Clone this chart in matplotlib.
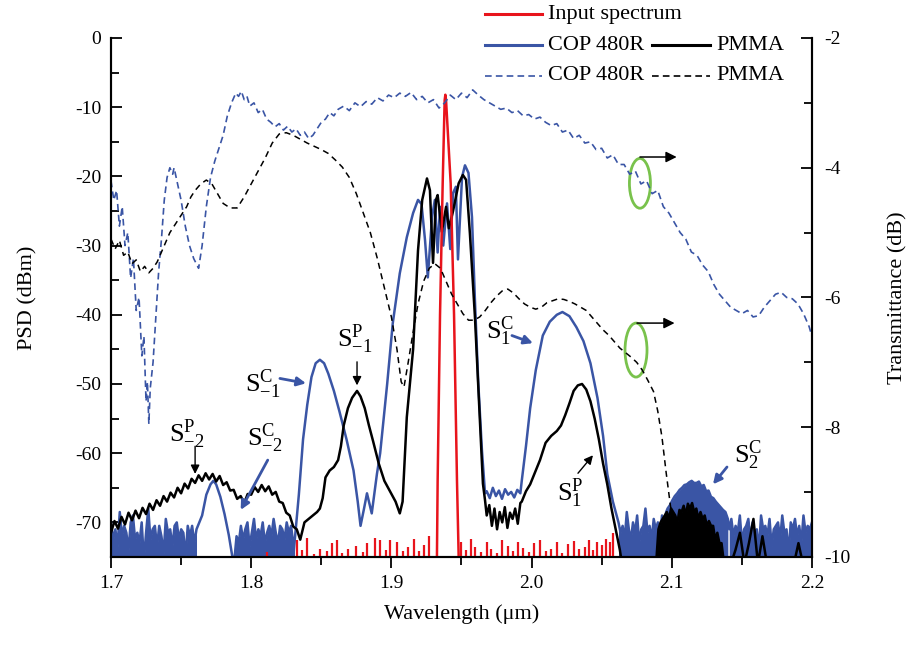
import numpy as np
import matplotlib
matplotlib.use('Agg')
import matplotlib.pyplot as plt
from matplotlib.lines import Line2D
from matplotlib.patches import Ellipse
from matplotlib.ticker import MultipleLocator

plt.rcParams['font.family'] = 'Liberation Serif'
plt.rcParams['mathtext.fontset'] = 'custom'
plt.rcParams['mathtext.rm'] = 'Liberation Serif'
plt.rcParams['axes.unicode_minus'] = False

BLUE = '#3a55a5'
RED = '#e8141c'
GREEN = '#79c24c'

# ---------------- data ----------------
# COP 480R output spectrum (PSD, dBm)
# noisy floor pieces: (first wavelength, last wavelength, upper edge of the noise band)
cop_floor1 = [-70, -72.5, -71, -73.5, -68.5, -72, -70.5, -71.5, -74, -70, -69, -72.5, -71.5, -73,
              -70, -75.5, -71.5, -68, -72.5, -71, -70.5, -73.5, -70.5, -72, -74.5, -69.5, -71.5,
              -71, -73.5, -70.5, -70, -72.5, -71, -71.5, -75, -70.5, -72, -70.5, -73, -71]
cop_floor2 = [-75.5, -72, -73, -70.5, -72.5, -71, -70, -73.5, -71.5, -69.5, -72.5, -71, -72, -70,
              -73, -71.5, -70.5, -72, -69.5, -71.5, -73, -70.5, -71, -72.5, -70, -71.5, -70.5, -73]
cop_floor3 = [-70, -71.5, -70.5, -72.5, -68.5, -71, -72.5, -70, -71.5, -69, -73, -71, -70.5, -68,
              -71.5, -70.5, -72.5, -69.5, -71, -70, -72, -69, -70.5, -68.5]
cop_s2 = [-68, -67.5, -66.8, -66.2, -65.8, -65.3, -65, -64.6, -64.5, -64.2, -64, -64.3, -64.3,
          -64.1, -64.8, -64.6, -65.5, -65.4, -66.3, -66.5, -67, -67.4, -67.8, -68.2, -68.5, -69.5]
cop_floor4 = [-71, -69.5, -72, -70.5, -71.5, -69, -73, -71, -70.5, -69.5, -72.5, -70, -71.5, -71,
              -74, -69, -71, -70.5, -72, -69.5, -73.5, -71, -70.5, -70, -72.5, -69, -71.5, -71,
              -74.5, -70, -71, -69.5, -72, -70.5, -73, -69, -71.5, -70.5, -71, -70]
cop_floor_ranges = [(1.700, 1.761), (1.788, 1.830), (2.062, 2.096), (2.097, 2.140), (2.141, 2.200)]

# clean parts of the COP trace
cop_s2m_wl = [1.761, 1.765, 1.768, 1.771, 1.773, 1.775, 1.778, 1.781, 1.784, 1.787]
cop_s2m = [-71, -69, -66, -64.5, -64, -64.5, -66.3, -68.8, -71.8, -75.5]
cop_main_wl = [1.830, 1.834, 1.837, 1.840, 1.843, 1.846, 1.849, 1.852, 1.855, 1.859, 1.863, 1.868,
               1.873, 1.876, 1.878, 1.8805, 1.8826, 1.886, 1.8897, 1.892, 1.897, 1.901, 1.906, 1.911,
               1.9155, 1.919, 1.9215, 1.924, 1.926, 1.929, 1.931, 1.933, 1.9347, 1.937, 1.9397,
               1.942, 1.944, 1.946, 1.9475, 1.9504, 1.9525, 1.955, 1.9575, 1.9596, 1.962, 1.9646,
               1.9668]
cop_main = [-75, -66, -58, -53, -49, -47, -46.5, -47, -48.5, -51, -54, -58, -62.5, -67, -70.5, -68,
            -65.8, -68.7, -63, -60, -50, -41.2, -34, -28.8, -25.3, -23.4, -24, -29.2, -34.6, -25.9,
            -23.4, -31, -24.4, -30, -23.9, -30.5, -22.4, -21.5, -32, -20.1, -18.4, -19.5, -25.9,
            -37.9, -49.9, -59.6, -65.8]
cop_floor_mid = [-65.5, -66.5, -65, -66.2, -65.4, -66.6, -65.2, -66, -65.6, -66.4, -65.3, -65.8]
cop_s1_wl = [1.993, 1.996, 1.999, 2.003, 2.008, 2.013, 2.018, 2.022, 2.027, 2.032, 2.037, 2.042,
             2.047, 2.051, 2.054, 2.058, 2.062]
cop_s1 = [-64, -59, -53.5, -48, -43, -41, -40, -39.6, -40.2, -41.8, -43.8, -47, -52, -57.5, -63,
          -67, -70]

# PMMA output spectrum (PSD, dBm)
pmma_left = [-71.5, -69.8, -70.9, -69.2, -70.3, -68.6, -69.7, -68.3, -69.4, -67.9, -68.8, -67.3,
             -68.2, -66.8, -67.6, -66.2, -67.0, -65.7, -66.4, -65.0, -65.8, -64.4, -65.1, -63.7,
             -64.3, -63.2, -64.0, -62.9, -63.8, -63.0, -64.1, -63.3, -64.6, -64.2, -65.4, -65.3,
             -66.6, -66.2, -67.2, -65.9, -66.0, -64.9, -65.6, -64.6, -65.5, -64.8, -66.0, -65.6,
             -67.0, -67.2, -68.6, -69.0, -70.6, -71.0]
pmma_main_wl = [1.835, 1.838, 1.841, 1.844, 1.847, 1.849, 1.851, 1.853, 1.856, 1.859, 1.862, 1.864,
                1.866, 1.869, 1.872, 1.8755, 1.878, 1.881, 1.884, 1.887, 1.891, 1.895, 1.899,
                1.903, 1.906, 1.908, 1.911, 1.9155, 1.919, 1.922, 1.9254, 1.9275, 1.9297, 1.9318,
                1.933, 1.936, 1.939, 1.941, 1.944, 1.948, 1.951, 1.9533, 1.956, 1.9596, 1.963,
                1.9653, 1.9668]
pmma_main = [-72.5, -70, -69.5, -69, -68.5, -68, -66.5, -63.5, -62.5, -62, -61, -59, -56, -53.5,
             -52, -51, -51.8, -53.5, -56, -58.3, -61.5, -64, -65.5, -67, -68.7, -67, -54.8, -45,
             -30.7, -23.4, -20.3, -22, -32.5, -23.4, -22.7, -28, -24.4, -27.5, -25, -21, -19.8,
             -20.5, -28.2, -40.3, -54.8, -64.4, -66.8]
pmma_floor_mid = [-69, -67.5, -70.5, -68, -71, -68.5, -70, -67.8, -70.8, -68.6, -69.5, -68, -70.2,
                  -67.2]
pmma_s1_wl = [1.993, 1.996, 1.999, 2.002, 2.006, 2.010, 2.014, 2.018, 2.021, 2.024, 2.027, 2.030,
              2.033, 2.036, 2.039, 2.042, 2.045, 2.048, 2.051, 2.054, 2.057, 2.060, 2.063, 2.066,
              2.088]
pmma_s1 = [-67, -65.5, -64.5, -63, -61, -58.5, -57.5, -56.8, -56, -54.5, -52.8, -51, -50.2, -50,
           -50.8, -52.5, -55, -58, -61.5, -64.5, -68, -71, -74, -78, -78]
# noisy bump near 2.11 um: upper edge of the band
pmma_bump = [-75.5, -71, -70, -69.5, -69, -68.5, -69.5, -68, -68.5, -69, -70, -68.2, -68.5, -67.6,
             -69, -67.3, -68, -67.2, -68.5, -68, -69.5, -68.5, -69.5, -69, -70.5, -69.8, -70.5,
             -70.5, -72.5, -71.5, -73, -73, -75.5]
pmma_bump_range = (2.089, 2.137)
pmma_floor_right = [-76, -76, -74, -71.5, -76, -73, -69.5, -76, -72, -76, -76, -76, -76, -76,
                    -76, -76, -73, -76, -76, -76]

# Input spectrum: main line and the small spikes of the floor
pump_wl = [1.930, 1.9325, 1.933, 1.9347, 1.9366, 1.938, 1.9385, 1.939, 1.9423, 1.9447, 1.9468,
           1.948, 1.951]
pump_psd = [-80, -75, -64, -40, -21, -9, -8.2, -9, -21, -40, -64, -75, -80]
spike_wl = [1.811, 1.8327, 1.8363, 1.840, 1.8445, 1.849, 1.854, 1.858, 1.861, 1.865, 1.869, 1.875,
            1.8795, 1.8826, 1.888, 1.892, 1.896, 1.899, 1.904, 1.908, 1.912, 1.916, 1.9195, 1.923,
            1.9265, 1.950, 1.9535, 1.957, 1.960, 1.964, 1.968, 1.971, 1.975, 1.979, 1.983, 1.9865,
            1.990, 1.994, 1.998, 2.002, 2.006, 2.010, 2.014, 2.018, 2.022, 2.026, 2.030, 2.034,
            2.038, 2.041, 2.044, 2.047, 2.050, 2.053, 2.056, 2.058]
spike_psd = [-74.3, -72.5, -74, -72.2, -74.5, -73.8, -74.2, -73, -72.6, -74.4, -73.9, -73.4, -74.3,
             -73, -72.2, -72.5, -74, -72.6, -72.8, -74.2, -73.5, -72.4, -74.1, -73.2, -72, -72.8,
             -74, -72.4, -73.6, -74.3, -72.9, -73.8, -74.4, -72.6, -73.4, -74.1, -72.9, -73.7,
             -74.3, -73, -72.6, -74.2, -73.8, -72.9, -74.4, -73.1, -72.7, -73.9, -73.5, -72.6, -74,
             -72.8, -73.2, -72.4, -72.9, -71.6]

# Fibre transmittance (dB), right axis
cop_t_wl = [1.700, 1.702, 1.704, 1.706, 1.708, 1.710, 1.712, 1.714, 1.716, 1.718, 1.720, 1.722,
            1.7235, 1.725, 1.726, 1.727, 1.728, 1.730, 1.732, 1.734, 1.736, 1.738, 1.740, 1.742,
            1.744, 1.745, 1.747, 1.750, 1.753, 1.756, 1.759, 1.7625, 1.765, 1.768, 1.771, 1.774,
            1.777, 1.780, 1.783, 1.786, 1.789, 1.791, 1.793, 1.795, 1.797, 1.799, 1.802, 1.805,
            1.808, 1.811, 1.814, 1.817, 1.820, 1.823, 1.826, 1.829, 1.832, 1.835, 1.838, 1.841,
            1.844, 1.847, 1.850, 1.853, 1.856, 1.859, 1.862, 1.866, 1.870, 1.874, 1.878, 1.882,
            1.886, 1.890, 1.894, 1.898, 1.902, 1.906, 1.910, 1.914, 1.918, 1.922, 1.926, 1.930,
            1.934, 1.938, 1.942, 1.946, 1.950, 1.954, 1.958, 1.962, 1.966, 1.970, 1.974, 1.978,
            1.982, 1.986, 1.990, 1.994, 1.998, 2.002, 2.006, 2.010, 2.014, 2.018, 2.022, 2.026,
            2.030, 2.034, 2.038, 2.042, 2.046, 2.050, 2.054, 2.058, 2.062, 2.066, 2.070, 2.074,
            2.078, 2.082, 2.086, 2.090, 2.094, 2.098, 2.102, 2.106, 2.110, 2.114, 2.118, 2.122,
            2.126, 2.130, 2.134, 2.138, 2.142, 2.146, 2.150, 2.154, 2.158, 2.162, 2.166, 2.170,
            2.174, 2.178, 2.182, 2.186, 2.190, 2.194, 2.198, 2.200]
cop_t = [-4.2, -4.5, -4.35, -4.9, -4.6, -5.2, -5.0, -5.7, -5.4, -6.2, -6.0, -6.9, -6.6, -7.6, -7.3,
         -7.95, -7.4, -7.0, -6.3, -5.6, -5.1, -4.5, -4.15, -4.0, -4.1, -4.0, -4.2, -4.5, -4.9, -5.2,
         -5.4, -5.55, -5.2, -4.6, -4.15, -3.9, -3.7, -3.5, -3.2, -3.0, -2.85, -2.9, -2.82, -2.95,
         -2.9, -3.05, -3.0, -3.15, -3.1, -3.25, -3.3, -3.37, -3.32, -3.42, -3.36, -3.45, -3.4,
         -3.5, -3.45, -3.55, -3.5, -3.4, -3.3, -3.25, -3.15, -3.2, -3.1, -3.05, -3.12, -3.0, -3.06,
         -2.98, -3.02, -2.92, -2.97, -2.88, -2.92, -2.85, -2.9, -2.84, -2.95, -2.9, -3.0, -2.95,
         -3.08, -3.0, -2.88, -2.95, -2.85, -2.92, -2.8, -2.88, -2.95, -3.0, -3.05, -3.1, -3.08,
         -3.15, -3.12, -3.2, -3.18, -3.25, -3.22, -3.3, -3.35, -3.32, -3.45, -3.42, -3.55, -3.5,
         -3.62, -3.6, -3.72, -3.7, -3.85, -3.8, -3.95, -3.95, -4.1, -4.05, -4.25, -4.2, -4.4,
         -4.35, -4.6, -4.7, -4.85, -5.0, -5.1, -5.3, -5.35, -5.5, -5.6, -5.8, -5.95, -6.05, -6.15,
         -6.2, -6.25, -6.2, -6.3, -6.28, -6.15, -6.05, -5.95, -5.92, -6.0, -6.02, -6.1, -6.25,
         -6.45, -6.6]
pmma_t_wl = [1.700, 1.703, 1.706, 1.709, 1.712, 1.715, 1.718, 1.721, 1.724, 1.727, 1.730, 1.733,
             1.736, 1.739, 1.742, 1.745, 1.748, 1.751, 1.754, 1.757, 1.760, 1.764, 1.768, 1.772,
             1.776, 1.780, 1.785, 1.790, 1.795, 1.800, 1.805, 1.810, 1.815, 1.820, 1.825, 1.830,
             1.835, 1.840, 1.845, 1.850, 1.855, 1.860, 1.865, 1.870, 1.875, 1.880, 1.885, 1.890,
             1.895, 1.900, 1.904, 1.907, 1.909, 1.912, 1.915, 1.919, 1.923, 1.927, 1.931, 1.935,
             1.939, 1.943, 1.947, 1.951, 1.955, 1.959, 1.963, 1.967, 1.971, 1.975, 1.979, 1.983,
             1.987, 1.991, 1.995, 1.999, 2.003, 2.007, 2.011, 2.015, 2.019, 2.023, 2.027, 2.031,
             2.035, 2.039, 2.043, 2.047, 2.051, 2.055, 2.059, 2.063, 2.067, 2.071, 2.075, 2.079,
             2.083, 2.087, 2.090, 2.093, 2.096, 2.099, 2.102, 2.105, 2.107]
pmma_t = [-5.1, -5.25, -5.12, -5.35, -5.3, -5.48, -5.42, -5.6, -5.52, -5.62, -5.55, -5.45, -5.3,
          -5.15, -5.0, -4.9, -4.8, -4.7, -4.6, -4.45, -4.35, -4.25, -4.19, -4.25, -4.4, -4.55,
          -4.62, -4.62, -4.45, -4.25, -4.05, -3.85, -3.62, -3.48, -3.46, -3.5, -3.56, -3.62,
          -3.67, -3.72, -3.78, -3.88, -3.99, -4.15, -4.4, -4.7, -5.0, -5.4, -5.85, -6.3, -6.8,
          -7.3, -7.38, -7.0, -6.6, -6.1, -5.75, -5.55, -5.48, -5.55, -5.75, -5.95, -6.1, -6.25,
          -6.35, -6.35, -6.3, -6.2, -6.08, -5.98, -5.9, -5.87, -5.93, -6.02, -6.1, -6.15, -6.18,
          -6.15, -6.08, -6.05, -6.02, -6.03, -6.06, -6.1, -6.15, -6.2, -6.3, -6.4, -6.5, -6.58,
          -6.68, -6.78, -6.85, -6.92, -7.0, -7.12, -7.28, -7.45, -7.75, -8.15, -8.7, -9.2, -9.6,
          -9.9, -10.1]

# peak labels
ann_labels = [r'$\mathregular{S^{C}_{-1}}$', r'$\mathregular{S^{P}_{-1}}$',
              r'$\mathregular{S^{P}_{-2}}$', r'$\mathregular{S^{C}_{-2}}$',
              r'$\mathregular{S^{C}_{1}}$', r'$\mathregular{S^{P}_{1}}$',
              r'$\mathregular{S^{C}_{2}}$']
ann_colors = [BLUE, 'black', 'black', BLUE, BLUE, 'black', BLUE]
# layout: text centre, arrow start, arrow tip (wavelength, dBm)
ann_text_xy = [(1.8084, -50.0), (1.874, -43.5), (1.7542, -57.3), (1.8098, -57.9),
               (1.9775, -42.4), (2.0274, -65.8), (2.1544, -60.3)]
ann_from = [(1.8205, -49.2), (1.8755, -46.8), (1.760, -59.0), (1.8118, -61.0),
            (1.986, -43.0), (2.0331, -62.9), (2.1394, -62.0)]
ann_to = [(1.8391, -49.9), (1.8755, -50.2), (1.760, -63.0), (1.7925, -68.2),
          (2.001, -44.1), (2.0438, -60.3), (2.1294, -64.5)]

# ---------------- figure ----------------
fig = plt.figure(figsize=(9.12, 6.46), dpi=100)
ax = fig.add_axes([0.1217, 0.1378, 0.7686, 0.8034])
ax2 = ax.twinx()

cop_floors = [cop_floor1, cop_floor2, cop_floor3, cop_s2, cop_floor4]
floor_wl = [np.linspace(a, b, len(v)) for (a, b), v in zip(cop_floor_ranges, cop_floors)]
cop_wl = np.concatenate([floor_wl[0], cop_s2m_wl, floor_wl[1], cop_main_wl,
                         np.linspace(1.968, 1.992, len(cop_floor_mid)), cop_s1_wl,
                         floor_wl[2], floor_wl[3], floor_wl[4]])
cop_psd = np.concatenate([cop_floor1, cop_s2m, cop_floor2, cop_main, cop_floor_mid, cop_s1,
                          cop_floor3, cop_s2, cop_floor4])
bump_wl = np.linspace(pmma_bump_range[0], pmma_bump_range[1], len(pmma_bump))
pmma_wl = np.concatenate([np.linspace(1.700, 1.8325, len(pmma_left)), pmma_main_wl,
                          np.linspace(1.968, 1.992, len(pmma_floor_mid)), pmma_s1_wl,
                          bump_wl, np.linspace(2.139, 2.200, len(pmma_floor_right))])
pmma_psd = np.concatenate([pmma_left, pmma_main, pmma_floor_mid, pmma_s1, pmma_bump,
                           pmma_floor_right])

# the noise floors are so dense that they read as filled bands
for w, v in zip(floor_wl, cop_floors):
    ax.fill_between(w, v, -76, color=BLUE, lw=0, zorder=2)
ax.plot(cop_wl, cop_psd, color=BLUE, lw=1.8, zorder=2)
ax.fill_between(bump_wl, pmma_bump, -76, color='black', lw=0, zorder=3)
ax.plot(pmma_wl, pmma_psd, color='black', lw=1.8, zorder=3)
ax.vlines(spike_wl, -76, spike_psd, color=RED, lw=1.6, zorder=4)
ax.plot(pump_wl, pump_psd, color=RED, lw=1.8, zorder=5)

ax2.plot(cop_t_wl, cop_t, color=BLUE, lw=1.2, ls=(0, (4, 2.5)))
ax2.plot(pmma_t_wl, pmma_t, color='black', lw=1.1, ls=(0, (4, 3)))

# green markers pointing to the right axis
for cx, cy, w, h in [(2.0773, -21.0, 0.015, 7.2), (2.0745, -45.1, 0.0157, 7.8)]:
    ax.add_patch(Ellipse((cx, cy), w, h, fill=False, ec=GREEN, lw=2, zorder=6))
for x0, x1, y in [(2.0773, 2.1035, -17.2), (2.0752, 2.1020, -41.2)]:
    ax.annotate('', xy=(x1, y), xytext=(x0, y),
                arrowprops=dict(arrowstyle='-|>', color='black', lw=1.1, mutation_scale=16,
                                shrinkA=0, shrinkB=0), zorder=6)

for lab, col, txy, p0, p1 in zip(ann_labels, ann_colors, ann_text_xy, ann_from, ann_to):
    ax.text(txy[0], txy[1], lab, color='black', fontsize=19, ha='center', va='center', zorder=7)
    lw = 2.0 if col == BLUE else 1.0
    ax.annotate('', xy=p1, xytext=p0,
                arrowprops=dict(arrowstyle='-|>', color=col, lw=lw, mutation_scale=13,
                                shrinkA=0, shrinkB=0), zorder=7)

ax.set_xlim(1.7, 2.2)
ax.set_ylim(-75, 0)
ax2.set_ylim(-10, -2)
ax.set_xticks([1.7, 1.8, 1.9, 2.0, 2.1, 2.2])
ax.set_xticklabels(['1.7', '1.8', '1.9', '2.0', '2.1', '2.2'])
ax.set_yticks([0, -10, -20, -30, -40, -50, -60, -70])
ax2.set_yticks([-2, -4, -6, -8, -10])
ax.xaxis.set_minor_locator(MultipleLocator(0.05))
ax.yaxis.set_minor_locator(MultipleLocator(5))
ax2.yaxis.set_minor_locator(MultipleLocator(1))

ax.tick_params(axis='x', which='both', direction='out', labelsize=14, width=1.3, pad=5)
ax.tick_params(axis='x', which='major', length=8)
ax.tick_params(axis='x', which='minor', length=6)
ax.tick_params(axis='y', which='both', direction='in', labelsize=14, width=1.3, pad=7,
               right=False)
ax.tick_params(axis='y', which='major', length=8)
ax.tick_params(axis='y', which='minor', length=6)
ax2.tick_params(axis='y', which='both', direction='in', labelsize=14, width=1.3, pad=9)
ax2.tick_params(axis='y', which='major', length=8)
ax2.tick_params(axis='y', which='minor', length=6)

for a in (ax, ax2):
    a.spines['top'].set_visible(False)
    for s in ('left', 'right', 'bottom'):
        a.spines[s].set_linewidth(1.5)

ax.set_xlabel('Wavelength (\u03bcm)', fontsize=16, labelpad=9)
ax.set_ylabel('PSD (dBm)', fontsize=16, labelpad=27)
ax2.set_ylabel('Transmittance (dB)', fontsize=16, labelpad=27)

# legend drawn by hand (entries do not sit on a regular grid)
leg_rows = [0.9783, 0.9303, 0.8824]
leg_entries = [
    (485, 542, leg_rows[0], RED, '-', 'Input spectrum'),
    (485, 542, leg_rows[1], BLUE, '-', 'COP 480R'),
    (652, 710, leg_rows[1], 'black', '-', 'PMMA'),
    (485, 542, leg_rows[2], BLUE, '--', 'COP 480R'),
    (652, 710, leg_rows[2], 'black', '--', 'PMMA'),
]
for x0, x1, fy, col, ls, lab in leg_entries:
    style = (0, (4, 2.5)) if ls == '--' else '-'
    lw = 1.2 if ls == '--' else 2.2
    fig.add_artist(Line2D([x0 / 912, x1 / 912], [fy, fy], color=col, lw=lw, ls=style))
    fig.text((x1 + 6) / 912, fy, lab, fontsize=16, va='center', ha='left')

fig.savefig('out.png', dpi=100)
